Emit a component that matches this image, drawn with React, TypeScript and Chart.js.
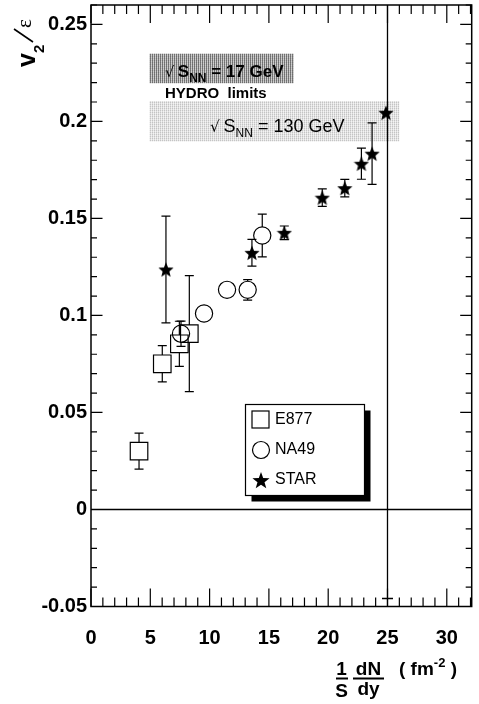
import React, { useEffect, useRef } from 'react';
import { Chart, registerables } from 'chart.js';

Chart.register(...registerables);

// ---- data ----
const starX = [6.32, 13.57, 16.3, 19.5, 21.4, 22.8, 23.7, 24.87];
const starY = [0.1237, 0.1323, 0.1426, 0.1607, 0.1656, 0.1782, 0.1834, 0.2045];
const starErr = [0.0275, 0.0069, 0.0035, 0.0045, 0.0045, 0.008, 0.0158, 0];

const na49X = [7.59, 9.53, 11.47, 13.21, 14.44];
const na49Y = [0.0906, 0.101, 0.1132, 0.1132, 0.1412];
const na49Err = [0.0065, 0, 0, 0.0053, 0.011];

const e877X = [4.05, 6.01, 7.45, 8.29];
const e877Y = [0.0301, 0.0751, 0.0854, 0.0906];
const e877Err = [0.0093, 0.0093, 0.0116, 0.0299];

const legendLabels = ['E877', 'NA49', 'STAR'];

const xTickValues = [0, 5, 10, 15, 20, 25, 30];
const xTickLabels = ['0', '5', '10', '15', '20', '25', '30'];
const yTickValues = [-0.05, 0, 0.05, 0.1, 0.15, 0.2, 0.25];
const yTickLabels = ['-0.05', '0', '0.05', '0.1', '0.15', '0.2', '0.25'];

const X_MIN = 0;
const X_MAX = 32.1;
const Y_MIN = -0.05;
const Y_MAX = 0.26;

// hydro limit bands: [xFrom, xTo, yFrom, yTo]
const band17 = [4.92, 17.1, 0.2197, 0.2349];
const band130 = [4.92, 26.0, 0.1897, 0.2105];
const refLineX = 25;
const refLineY = 0;

const FONT = '"Liberation Sans", Arial, Helvetica, sans-serif';

function starPath(ctx: CanvasRenderingContext2D, cx: number, cy: number, R: number, r: number) {
  ctx.beginPath();
  for (let i = 0; i < 10; i++) {
    const rad = i % 2 === 0 ? R : r;
    const a = -Math.PI / 2 + (i * Math.PI) / 5;
    const px = cx + rad * Math.cos(a);
    const py = cy + rad * Math.sin(a);
    if (i === 0) ctx.moveTo(px, py);
    else ctx.lineTo(px, py);
  }
  ctx.closePath();
}

function makeStar(size: number) {
  const c = document.createElement('canvas');
  c.width = size;
  c.height = size;
  const ctx = c.getContext('2d')!;
  ctx.fillStyle = '#000';
  starPath(ctx, size / 2, size / 2 + size * 0.05, size / 2, size * 0.22);
  ctx.fill();
  return c;
}

function makePattern(ctx: CanvasRenderingContext2D, cols: string[][]) {
  const c = document.createElement('canvas');
  c.width = cols[0].length;
  c.height = cols.length;
  const p = c.getContext('2d')!;
  for (let r = 0; r < cols.length; r++)
    for (let k = 0; k < cols[r].length; k++) {
      p.fillStyle = cols[r][k];
      p.fillRect(k, r, 1, 1);
    }
  return ctx.createPattern(c, 'repeat')!;
}

const overlayPlugin = {
  id: 'overlay',
  beforeDatasetsDraw(chart: any) {
    const ctx: CanvasRenderingContext2D = chart.ctx;
    const xs = chart.scales.x;
    const ys = chart.scales.y;
    const { left, right, top, bottom } = chart.chartArea;
    ctx.save();
    // bands
    const drawBand = (b: number[], fill: any) => {
      const x1 = xs.getPixelForValue(b[0]);
      const x2 = xs.getPixelForValue(b[1]);
      const y1 = ys.getPixelForValue(b[3]);
      const y2 = ys.getPixelForValue(b[2]);
      ctx.fillStyle = fill;
      ctx.fillRect(x1, y1, x2 - x1, y2 - y1);
    };
    drawBand(band17, makePattern(ctx, [
      ['#6e6e6e', '#c2c2c2'],
      ['#7a7a7a', '#d0d0d0'],
    ]));
    drawBand(band130, makePattern(ctx, [
      ['#c4c4c4', '#e8e8e8'],
      ['#dcdcdc', '#f4f4f4'],
    ]));
    // band texts
    ctx.fillStyle = '#000';
    ctx.textBaseline = 'alphabetic';
    ctx.textAlign = 'left';
    const sqrtText = (x: number, y: number, size: number, bold: boolean, rest: string) => {
      const w = bold ? 'bold ' : '';
      ctx.font = `${size * 0.85}px "DejaVu Sans", sans-serif`;
      ctx.fillText('\u221A', x, y);
      let cx = x + ctx.measureText('\u221A ').width - 1;
      ctx.font = `${w}${size}px ${FONT}`;
      ctx.fillText('S', cx, y);
      cx += ctx.measureText('S').width;
      ctx.font = `${w}${Math.round(size * 0.68)}px ${FONT}`;
      ctx.fillText('NN', cx, y + size * 0.28);
      cx += ctx.measureText('NN').width;
      ctx.font = `${w}${size}px ${FONT}`;
      ctx.fillText(rest, cx, y);
    };
    sqrtText(165, 77, 17, true, ' = 17 GeV');
    ctx.font = `bold 15px ${FONT}`;
    ctx.fillText('HYDRO  limits', 165, 98);
    sqrtText(210, 132, 18, false, ' = 130 GeV');

    // reference lines
    ctx.strokeStyle = '#000';
    ctx.lineWidth = 1.3;
    const y0 = ys.getPixelForValue(refLineY);
    ctx.beginPath();
    ctx.moveTo(left, y0);
    ctx.lineTo(right, y0);
    const xl = xs.getPixelForValue(refLineX);
    ctx.moveTo(xl, top);
    ctx.lineTo(xl, bottom);
    ctx.moveTo(xl - 5.5, bottom - 8);
    ctx.lineTo(xl + 5.5, bottom - 8);
    ctx.stroke();

    // error bars
    const errs = (X: number[], Y: number[], E: number[], gap: number) => {
      ctx.beginPath();
      for (let i = 0; i < X.length; i++) {
        if (!E[i]) continue;
        const px = xs.getPixelForValue(X[i]);
        const pc = ys.getPixelForValue(Y[i]);
        const ph = ys.getPixelForValue(Y[i] + E[i]);
        const pl = ys.getPixelForValue(Y[i] - E[i]);
        if (pc - ph > gap) {
          ctx.moveTo(px, pc - gap);
          ctx.lineTo(px, ph);
        }
        ctx.moveTo(px - 4.5, ph);
        ctx.lineTo(px + 4.5, ph);
        if (pl - pc > gap) {
          ctx.moveTo(px, pc + gap);
          ctx.lineTo(px, pl);
        }
        ctx.moveTo(px - 4.5, pl);
        ctx.lineTo(px + 4.5, pl);
      }
      ctx.stroke();
    };
    ctx.lineWidth = 1.2;
    errs(e877X, e877Y, e877Err, 8.8);
    errs(na49X, na49Y, na49Err, 8.6);
    errs(starX, starY, starErr, 0);
    ctx.restore();
  },
  afterDraw(chart: any) {
    const ctx: CanvasRenderingContext2D = chart.ctx;
    const xs = chart.scales.x;
    const ys = chart.scales.y;
    const { left, right, top, bottom } = chart.chartArea;
    ctx.save();
    ctx.strokeStyle = '#000';
    // inward ticks
    ctx.lineWidth = 1.2;
    ctx.beginPath();
    for (let v = Math.ceil(X_MIN); v <= X_MAX; v++) {
      const px = xs.getPixelForValue(v);
      const len = v % 5 === 0 ? 18 : 9;
      ctx.moveTo(px, bottom);
      ctx.lineTo(px, bottom - len);
      ctx.moveTo(px, top);
      ctx.lineTo(px, top + len);
    }
    for (let k = Math.round(Y_MIN * 100); k <= Math.floor(Y_MAX * 100 + 1e-6); k++) {
      const py = ys.getPixelForValue(k / 100);
      const len = k % 5 === 0 ? 11.5 : 6;
      ctx.moveTo(left, py);
      ctx.lineTo(left + len, py);
      ctx.moveTo(right, py);
      ctx.lineTo(right - len, py);
    }
    ctx.stroke();
    // frame
    ctx.lineWidth = 1.5;
    ctx.strokeRect(left, top, right - left, bottom - top);

    // legend
    const lx = 245.5, ly = 404.5, lw = 119, lh = 91;
    ctx.fillStyle = '#000';
    ctx.fillRect(lx + 6, ly + 6, lw, lh);
    ctx.fillStyle = '#fff';
    ctx.fillRect(lx, ly, lw, lh);
    ctx.lineWidth = 1.2;
    ctx.strokeRect(lx, ly, lw, lh);
    ctx.strokeRect(lx + 6.5, 411, 17, 17);
    ctx.beginPath();
    ctx.arc(261, 450, 8.5, 0, Math.PI * 2);
    ctx.stroke();
    ctx.fillStyle = '#000';
    starPath(ctx, 261, 481, 9, 3.7);
    ctx.fill();
    ctx.font = `16px ${FONT}`;
    ctx.textBaseline = 'middle';
    ctx.textAlign = 'left';
    ctx.fillText(legendLabels[0], 275, 420);
    ctx.fillText(legendLabels[1], 275, 450);
    ctx.fillText(legendLabels[2], 275, 480);

    // y title  v2/ε
    ctx.save();
    ctx.translate(35, 67);
    ctx.rotate(-Math.PI / 2);
    ctx.textBaseline = 'alphabetic';
    ctx.font = `bold 25px ${FONT}`;
    ctx.fillText('v', 0, 0);
    const vw = ctx.measureText('v').width;
    ctx.font = `bold 15px ${FONT}`;
    ctx.fillText('2', vw, 9);
    ctx.lineWidth = 1.6;
    ctx.beginPath();
    ctx.moveTo(25, -2);
    ctx.lineTo(38, -21);
    ctx.stroke();
    ctx.font = `21px "Liberation Serif", serif`;
    ctx.fillText('\u03B5', 39, -4);
    ctx.restore();

    // x title  1/S dN/dy ( fm^-2 )
    ctx.font = `bold 19px ${FONT}`;
    ctx.textBaseline = 'alphabetic';
    ctx.textAlign = 'center';
    ctx.fillText('1', 341.5, 675);
    ctx.fillText('S', 341.5, 697);
    ctx.fillText('dN', 368.5, 675);
    ctx.fillText('dy', 368.5, 695);
    ctx.lineWidth = 1.8;
    ctx.beginPath();
    ctx.moveTo(336, 678.5);
    ctx.lineTo(348, 678.5);
    ctx.moveTo(353, 678.5);
    ctx.lineTo(384, 678.5);
    ctx.stroke();
    ctx.textAlign = 'left';
    ctx.fillText('( fm', 399, 675);
    let tx = 399 + ctx.measureText('( fm').width;
    ctx.font = `bold 13px ${FONT}`;
    ctx.fillText('-2', tx, 667);
    tx += ctx.measureText('-2').width;
    ctx.font = `bold 19px ${FONT}`;
    ctx.fillText(' )', tx, 675);
    ctx.restore();
  },
};

export default function App() {
  const ref = useRef<HTMLCanvasElement>(null);
  useEffect(() => {
    if (!ref.current) return;
    const starImg = makeStar(16);
    const chart = new Chart(ref.current, {
      type: 'scatter',
      data: {
        datasets: [
          {
            label: legendLabels[0],
            data: e877X.map((x, i) => ({ x, y: e877Y[i] })),
            pointStyle: 'rect',
            pointRadius: 12.4,
            pointBackgroundColor: 'rgba(0,0,0,0)',
            pointBorderColor: '#000',
            pointBorderWidth: 1.2,
          },
          {
            label: legendLabels[1],
            data: na49X.map((x, i) => ({ x, y: na49Y[i] })),
            pointStyle: 'circle',
            pointRadius: 8.6,
            pointBackgroundColor: 'rgba(0,0,0,0)',
            pointBorderColor: '#000',
            pointBorderWidth: 1.2,
          },
          {
            label: legendLabels[2],
            data: starX.map((x, i) => ({ x, y: starY[i] })),
            pointStyle: starImg as any,
            pointRadius: 8,
          },
        ],
      },
      options: {
        animation: false,
        responsive: false,
        devicePixelRatio: 1,
        events: [],
        layout: { autoPadding: false, padding: { left: 0, top: 5, right: 7.3, bottom: 0 } },
        plugins: { legend: { display: false }, tooltip: { enabled: false } },
        scales: {
          x: {
            type: 'linear',
            min: X_MIN,
            max: X_MAX,
            grid: { display: false, drawTicks: false },
            border: { display: false },
            afterFit: (s: any) => {
              s.height = 97.5;
              s.paddingLeft = 0;
              s.paddingRight = 0;
            },
            afterBuildTicks: (s: any) => {
              s.ticks = xTickValues.map((v) => ({ value: v }));
            },
            ticks: {
              callback: (_v: any, i: number) => xTickLabels[i],
              font: { family: FONT, size: 20, weight: 'bold' },
              color: '#000',
              padding: 20,
              maxRotation: 0,
              autoSkip: false,
            },
          },
          y: {
            type: 'linear',
            min: Y_MIN,
            max: Y_MAX,
            grid: { display: false, drawTicks: false },
            border: { display: false },
            afterFit: (s: any) => {
              s.width = 91;
              s.paddingTop = 0;
              s.paddingBottom = 0;
            },
            afterBuildTicks: (s: any) => {
              s.ticks = yTickValues.map((v) => ({ value: v }));
            },
            ticks: {
              callback: (_v: any, i: number) => yTickLabels[i],
              font: { family: FONT, size: 20, weight: 'bold' },
              color: '#000',
              padding: 4,
              autoSkip: false,
            },
          },
        },
      },
      plugins: [overlayPlugin],
    } as any);
    return () => chart.destroy();
  }, []);
  return (
    <div style={{ position: 'absolute', left: 0, top: 0, width: 479, height: 704, background: '#fff' }}>
      <canvas ref={ref} width={479} height={704} style={{ display: 'block' }} />
    </div>
  );
}
